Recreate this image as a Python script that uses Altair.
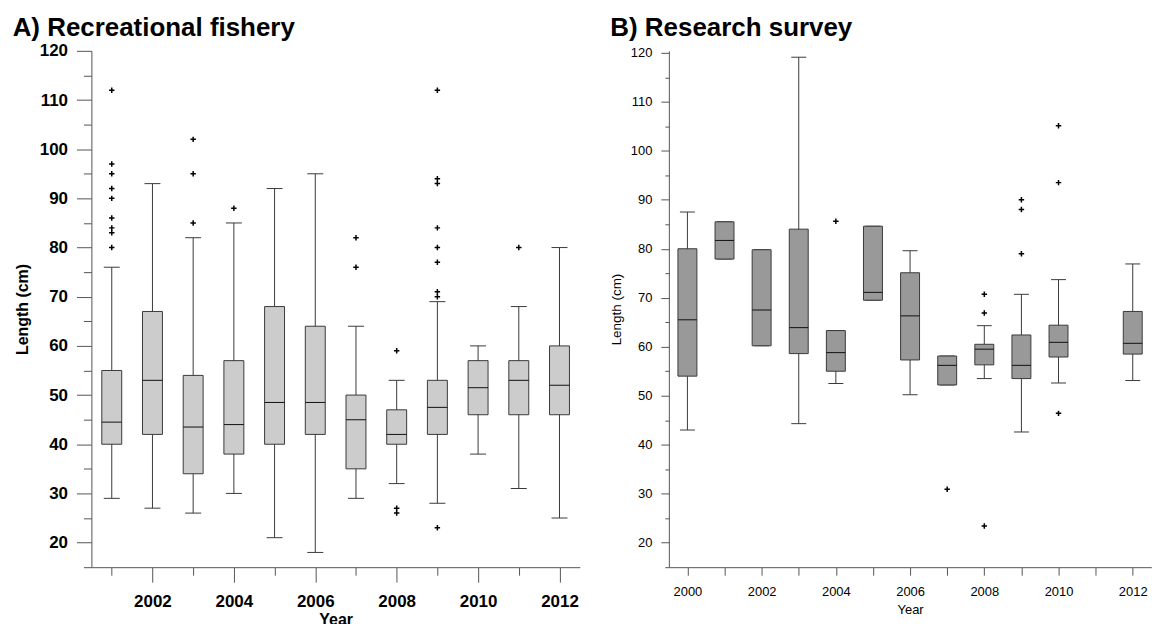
import altair as alt
import pandas as pd

FONT = "Liberation Sans"

# ---------------- Panel A: Recreational fishery ----------------
a_years = [2001, 2002, 2003, 2004, 2005, 2006, 2007, 2008, 2009, 2010, 2011, 2012]
a_lo = [29, 27, 26, 30, 21, 18, 29, 32, 28, 38, 31, 25]
a_q1 = [40, 42, 34, 38, 40, 42, 35, 40, 42, 46, 46, 46]
a_med = [44.5, 53, 43.5, 44, 48.5, 48.5, 45, 42, 47.5, 51.5, 53, 52]
a_q3 = [55, 67, 54, 57, 68, 64, 50, 47, 53, 57, 57, 60]
a_hi = [76, 93, 82, 85, 92, 95, 64, 53, 69, 60, 68, 80]
a_out_years = ([2001] * 9 + [2003] * 3 + [2004] + [2007] * 2 + [2008] * 3
               + [2009] * 9 + [2011])
a_out_vals = [80, 83, 84, 86, 90, 92, 95, 97, 112,
              85, 95, 102,
              88,
              76, 82,
              59, 27, 26,
              112, 94, 93, 84, 80, 77, 71, 70, 23,
              80]

# ---------------- Panel B: Research survey ----------------
b_years = [2000, 2001, 2002, 2003, 2004, 2005, 2006, 2007, 2008, 2009, 2010, 2012]
b_lo = [43, 77.9, 60.2, 44.3, 52.5, 69.5, 50.2, 52.2, 53.5, 42.6, 52.6, 53.1]
b_q1 = [54, 77.9, 60.2, 58.6, 55, 69.5, 57.3, 52.2, 56.3, 53.5, 57.9, 58.5]
b_med = [65.5, 81.7, 67.5, 63.9, 58.8, 71.1, 66.3, 56.2, 59.5, 56.2, 60.9, 60.7]
b_q3 = [80, 85.5, 79.8, 84, 63.3, 84.6, 75.1, 58.1, 60.5, 62.4, 64.4, 67.2]
b_hi = [87.5, 85.5, 79.8, 119.1, 63.3, 84.6, 79.6, 58.1, 64.3, 70.7, 73.7, 76.9]
b_out_years = [2004, 2007, 2008, 2008, 2008, 2009, 2009, 2009, 2010, 2010, 2010]
b_out_vals = [85.6, 30.9, 66.9, 70.7, 23.4, 90, 88, 79, 105.1, 93.5, 46.4]

y_major = [20, 30, 40, 50, 60, 70, 80, 90, 100, 110, 120]
y_minor = [15, 25, 35, 45, 55, 65, 75, 85, 95, 105, 115]

CROSS = "M-1,0L1,0M0,-1L0,1"
AXC = "#555555"
STK = "#3a3a3a"


def panel(years, lo, q1, med, q3, hi, oy, ov, *, xdom, ydom, w, h, box_w, cap_w,
          fill, title, title_dx, title_offset, bold, lab_size, ytitle_size, xtitle_size,
          y_tick_major, y_tick_minor, x_major, x_minor, x_tick_major, x_tick_minor,
          y_lab_pad, y_title_pad, x_lab_pad, x_title_pad):
    box = pd.DataFrame({"year": years, "lo": lo, "q1": q1, "med": med, "q3": q3, "hi": hi})
    out = pd.DataFrame({"year": oy, "val": ov})
    fw = "bold" if bold else "normal"
    xs = alt.Scale(domain=xdom, nice=False, zero=False, padding=0)
    ys = alt.Scale(domain=ydom, nice=False, zero=False, padding=0)

    x_major_axis = alt.Axis(orient="bottom", values=x_major, format="d", tickSize=x_tick_major,
                            tickColor=AXC, domainColor=AXC, grid=False,
                            labelFont=FONT, labelFontSize=lab_size, labelFontWeight=fw,
                            labelColor="black", labelPadding=x_lab_pad, labelFlush=False,
                            title="Year", titleFont=FONT, titleFontSize=xtitle_size,
                            titleFontWeight=fw, titleColor="black", titlePadding=x_title_pad)
    y_major_axis = alt.Axis(orient="left", values=y_major, tickSize=y_tick_major,
                            tickColor=AXC, domainColor=AXC, grid=False,
                            labelFont=FONT, labelFontSize=lab_size, labelFontWeight=fw,
                            labelColor="black", labelPadding=y_lab_pad, labelFlush=False,
                            title="Length (cm)", titleFont=FONT, titleFontSize=ytitle_size,
                            titleFontWeight=fw, titleColor="black", titlePadding=y_title_pad)
    x_minor_axis = alt.Axis(orient="bottom", values=x_minor, tickSize=x_tick_minor,
                            tickColor=AXC, domain=False, labels=False, grid=False, title=None)
    y_minor_axis = alt.Axis(orient="left", values=y_minor, tickSize=y_tick_minor,
                            tickColor=AXC, domain=False, labels=False, grid=False, title=None)

    whisk = alt.Chart(box).mark_rule(color=STK, strokeWidth=1).encode(
        x=alt.X("year:Q", scale=xs, axis=x_major_axis),
        y=alt.Y("lo:Q", scale=ys, axis=y_major_axis),
        y2="hi:Q",
    )
    cap_lo = alt.Chart(box).mark_tick(orient="horizontal", size=cap_w, thickness=1, color=STK,
                                      opacity=1).encode(
        x=alt.X("year:Q", scale=xs, axis=x_minor_axis),
        y=alt.Y("lo:Q", scale=ys, axis=y_minor_axis),
    )
    cap_hi = alt.Chart(box).mark_tick(orient="horizontal", size=cap_w, thickness=1, color=STK,
                                      opacity=1).encode(
        x=alt.X("year:Q", scale=xs, axis=None),
        y=alt.Y("hi:Q", scale=ys, axis=None),
    )
    bars = alt.Chart(box).mark_bar(size=box_w, fill=fill, stroke=STK, strokeWidth=1,
                                   opacity=1).encode(
        x=alt.X("year:Q", scale=xs, axis=None),
        y=alt.Y("q1:Q", scale=ys, axis=None),
        y2="q3:Q",
    )
    meds = alt.Chart(box).mark_tick(orient="horizontal", size=box_w, thickness=1,
                                    color="#111111", opacity=1).encode(
        x=alt.X("year:Q", scale=xs, axis=None),
        y=alt.Y("med:Q", scale=ys, axis=None),
    )
    pts = alt.Chart(out).mark_point(shape=CROSS, size=30, filled=False, stroke="black",
                                    strokeWidth=1.5, opacity=1).encode(
        x=alt.X("year:Q", scale=xs, axis=None),
        y=alt.Y("val:Q", scale=ys, axis=None),
    )
    return alt.layer(whisk, cap_lo, cap_hi, bars, meds, pts).resolve_axis(
        x="independent", y="independent"
    ).properties(
        width=w, height=h,
        title=alt.TitleParams(title, anchor="start", frame="group", dx=title_dx,
                              font=FONT, fontSize=26, fontWeight="bold", color="black",
                              offset=title_offset),
    )


left = panel(a_years, a_lo, a_q1, a_med, a_q3, a_hi, a_out_years, a_out_vals,
             xdom=[2000.5, 2012.5], ydom=[15, 120], w=490, h=518, box_w=20, cap_w=16,
             fill="#cccccc", title="A) Recreational fishery", title_dx=-79, title_offset=1.3,
             bold=True, lab_size=17, ytitle_size=16, xtitle_size=16,
             y_tick_major=15, y_tick_minor=8,
             x_major=[2002, 2004, 2006, 2008, 2010, 2012],
             x_minor=[2001, 2003, 2005, 2007, 2009, 2011],
             x_tick_major=15, x_tick_minor=8,
             y_lab_pad=9, y_title_pad=9, x_lab_pad=11, x_title_pad=2)

right = panel(b_years, b_lo, b_q1, b_med, b_q3, b_hi, b_out_years, b_out_vals,
              xdom=[1999.5, 2012.5], ydom=[15, 120.4], w=484, h=518, box_w=19, cap_w=15,
              fill="#999999", title="B) Research survey", title_dx=-58.7, title_offset=5.8,
              bold=False, lab_size=13, ytitle_size=13.5, xtitle_size=13,
              y_tick_major=8, y_tick_minor=4,
              x_major=[2000, 2002, 2004, 2006, 2008, 2010, 2012],
              x_minor=[2001, 2003, 2005, 2007, 2009, 2011],
              x_tick_major=8, x_tick_minor=8,
              y_lab_pad=9, y_title_pad=7, x_lab_pad=10, x_title_pad=5)

chart = alt.hconcat(left, right, spacing=89.3, bounds="flush").properties(
    padding={"left": 12.7, "top": 13, "right": 0, "bottom": 0},
    background="white",
).configure_view(stroke=None)

chart.save("out.html", embed_options={"renderer": "svg", "actions": False})
